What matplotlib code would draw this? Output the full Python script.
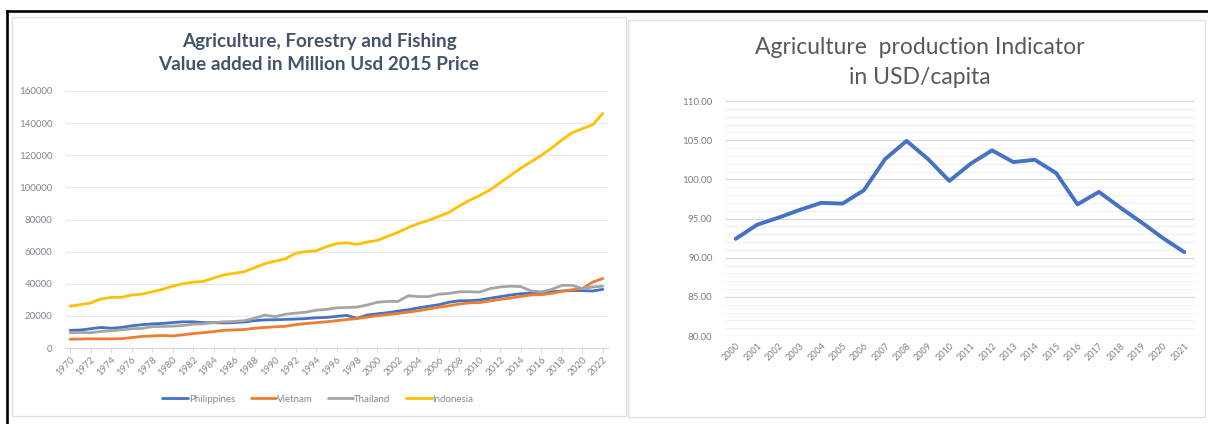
import matplotlib
matplotlib.use("Agg")
import matplotlib.pyplot as plt
from matplotlib.patches import Rectangle
from matplotlib.lines import Line2D

plt.rcParams['font.family'] = ['Lato', 'DejaVu Sans']

# ---------------- data ----------------
years_left = list(range(1970, 2023))
philippines = [11000, 11200, 12000, 12800, 12300, 12800, 13800, 14500, 15000, 15300,
               15800, 16300, 16300, 15800, 15800, 15600, 15800, 16200, 17000, 17500,
               17600, 17800, 18000, 18300, 18800, 19000, 19700, 20300, 18500, 20500,
               21300, 22000, 23000, 23800, 25000, 26000, 27000, 28500, 29400, 29500,
               29900, 31000, 32000, 33000, 33800, 34200, 34300, 35000, 35500, 35800,
               35700, 35500, 36500]
vietnam = [5500, 5600, 5700, 5700, 5700, 5800, 6500, 7200, 7500, 7800,
           7500, 8200, 9000, 9500, 10200, 11000, 11300, 11500, 12300, 12800,
           13200, 13500, 14500, 15200, 15800, 16300, 17000, 17700, 18300, 19200,
           20100, 20800, 21500, 22300, 23200, 24300, 25400, 26300, 27400, 28100,
           28300, 29300, 30300, 31100, 32100, 33000, 33200, 34000, 35300, 36300,
           37000, 41000, 43300]
thailand = [9500, 9700, 9500, 10300, 10700, 11300, 12000, 12200, 13300, 13400,
            13600, 14000, 14800, 15000, 15800, 16300, 16500, 17000, 18500, 20500,
            19500, 21000, 21700, 22300, 23500, 24000, 25000, 25200, 25500, 26800,
            28500, 29000, 29000, 32500, 32000, 32000, 33500, 34000, 35000, 35000,
            34800, 37000, 38000, 38500, 38200, 35500, 35000, 36500, 39000, 39000,
            37000, 38000, 38500]
indonesia = [26000, 27000, 28000, 30500, 31500, 31500, 33000, 33500, 35000, 36500,
             38500, 40000, 41000, 41500, 43500, 45500, 46500, 47500, 50000, 52500,
             54000, 55500, 59000, 60000, 60500, 63000, 65000, 65500, 64500, 66000,
             67000, 69500, 72000, 75000, 77500, 79500, 82000, 84500, 88500, 92000,
             95000, 98500, 103000, 107500, 112000, 116000, 120000, 124500, 129500, 134000,
             136500, 139000, 146000]
series_names = ["Philippines", "Vietnam", "Thailand", "Indonesia"]
series_colors = ["#4472C4", "#ED7D31", "#A5A5A5", "#FFC000"]

years_right = list(range(2000, 2022))
indicator = [92.4, 94.2, 95.1, 96.1, 97.0, 96.9, 98.6, 102.6, 104.9, 102.6, 99.8,
             102.0, 103.7, 102.2, 102.5, 100.8, 96.8, 98.4, 96.4, 94.5, 92.5, 90.7]

left_yticks = [0, 20000, 40000, 60000, 80000, 100000, 120000, 140000, 160000]
right_yticks = [80, 85, 90, 95, 100, 105, 110]

W, H = 1208, 424
fig = plt.figure(figsize=(W / 100, H / 100), dpi=100)
fig.patch.set_facecolor("white")

def px_rect(x0, y0, x1, y1):
    return (x0 / W, 1 - y1 / H, (x1 - x0) / W, (y1 - y0) / H)

# panel borders
for (x0, y0, x1, y1) in [(12, 17, 626, 416), (628, 20, 1205, 417)]:
    l, b, w, h = px_rect(x0, y0, x1, y1)
    fig.add_artist(Rectangle((l, b), w, h, transform=fig.transFigure,
                             facecolor="white", edgecolor="#DDE1E7", lw=1.0, zorder=0))
# black outer frame
fig.add_artist(Line2D([7 / W, 1], [1 - 11 / H, 1 - 11 / H], transform=fig.transFigure,
                      color="black", lw=1.9))
fig.add_artist(Line2D([7 / W, 7 / W], [1 - 11 / H, 0], transform=fig.transFigure,
                      color="black", lw=1.9))

# ---------------- left chart ----------------
axL = fig.add_axes(px_rect(65, 91, 608, 348))
xs = list(range(len(years_left)))
for name, vals, col in zip(series_names, [philippines, vietnam, thailand, indonesia], series_colors):
    axL.plot(xs, vals, color=col, lw=2.0, label=name, solid_capstyle="round")
axL.set_xlim(-0.5, len(years_left) - 0.5)
axL.set_ylim(0, 160000)
axL.set_yticks(left_yticks)
axL.set_yticklabels([str(v) for v in left_yticks], fontsize=7, color="#7F8896")
axL.set_xticks(xs[::2])
axL.set_xticklabels([str(y) for y in years_left[::2]], rotation=45, ha="right",
                    rotation_mode="anchor", fontsize=7, color="#7F8896")
axL.tick_params(axis="y", length=0, pad=9)
axL.tick_params(axis="x", length=3, color="#D9D9D9", pad=2)
axL.grid(axis="y", color="#E6E9EF", lw=0.9)
axL.set_axisbelow(True)
for s in ["top", "right", "left"]:
    axL.spines[s].set_visible(False)
axL.spines["bottom"].set_color("#D9D9D9")
fig.text(319 / W, 1 - 42 / H, "Agriculture, Forestry and Fishing", ha="center", va="center",
         fontsize=13.6, fontweight="bold", color="#44546A")
fig.text(319 / W, 1 - 65 / H, "Value added in Million Usd 2015 Price", ha="center", va="center",
         fontsize=13.6, fontweight="bold", color="#44546A")
leg = axL.legend(loc="center", bbox_to_anchor=(318 / W, 1 - 399 / H), bbox_transform=fig.transFigure,
                 ncol=4, frameon=False, fontsize=7, handlelength=2.6, handletextpad=0.1,
                 columnspacing=1.6)
for t in leg.get_texts():
    t.set_color("#7F8896")

# ---------------- right chart ----------------
axR = fig.add_axes(px_rect(725, 101, 1195, 336))
xr = list(range(len(years_right)))
axR.plot(xr, indicator, color="#4472C4", lw=2.8, solid_joinstyle="round", solid_capstyle="round")
axR.set_xlim(-0.5, len(years_right) - 0.5)
axR.set_ylim(80, 110)
axR.set_yticks(right_yticks)
axR.set_yticklabels([f"{v:.2f}" for v in right_yticks], fontsize=7, color="#7F7F7F")
axR.set_yticks([v for v in range(80, 111) if v % 5 != 0], minor=True)
axR.set_xticks(xr)
axR.set_xticklabels([str(y) for y in years_right], rotation=45, ha="right",
                    rotation_mode="anchor", fontsize=6.5, color="#7F7F7F")
axR.tick_params(axis="both", which="both", length=0)
axR.tick_params(axis="y", pad=9)
axR.tick_params(axis="x", pad=4)
axR.grid(axis="y", which="major", color="#D9D9D9", lw=0.9)
axR.grid(axis="y", which="minor", color="#EFEFEF", lw=0.8)
axR.set_axisbelow(True)
for s in ["top", "right", "left", "bottom"]:
    axR.spines[s].set_visible(False)
fig.text(920 / W, 1 - 47 / H, "Agriculture  production Indicator", ha="center", va="center",
         fontsize=16.5, color="#595959")
fig.text(920 / W, 1 - 78 / H, "in USD/capita", ha="center", va="center",
         fontsize=16.5, color="#595959")

fig.savefig("out.png", dpi=100, facecolor="white")
